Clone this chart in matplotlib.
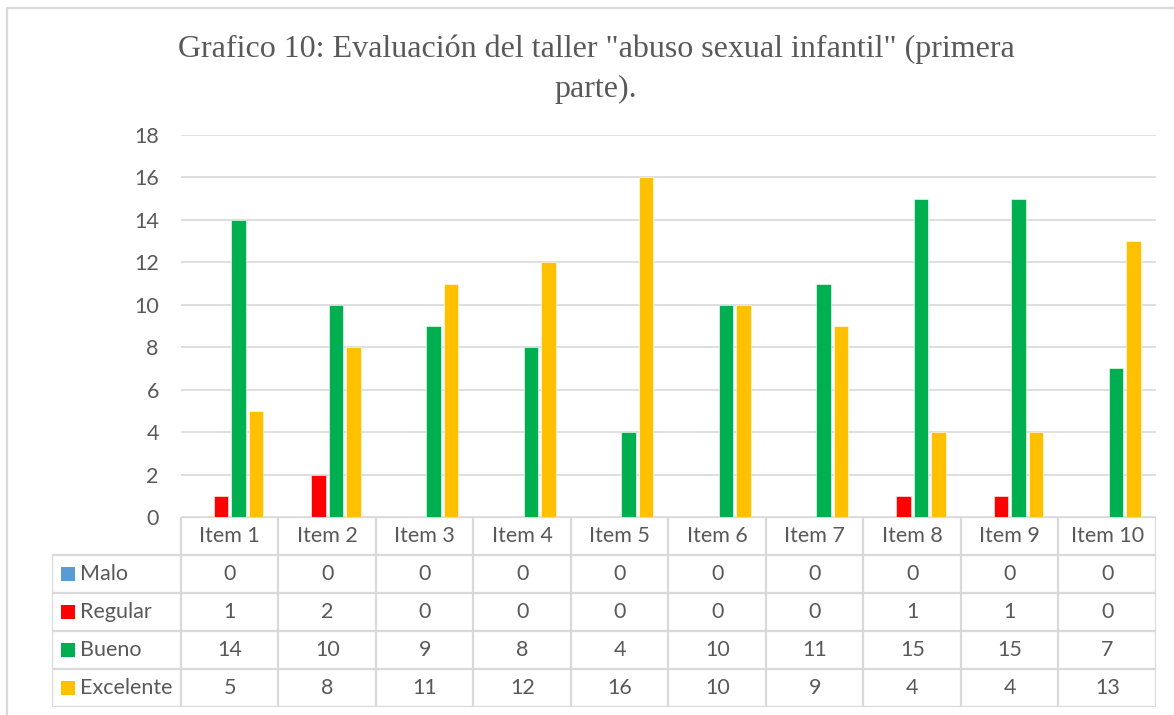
import matplotlib
matplotlib.use("Agg")
import matplotlib.pyplot as plt
import numpy as np

categories = ["Item 1", "Item 2", "Item 3", "Item 4", "Item 5",
              "Item 6", "Item 7", "Item 8", "Item 9", "Item 10"]
series_names = ["Malo", "Regular", "Bueno", "Excelente"]
malo = [0, 0, 0, 0, 0, 0, 0, 0, 0, 0]
regular = [1, 2, 0, 0, 0, 0, 0, 1, 1, 0]
bueno = [14, 10, 9, 8, 4, 10, 11, 15, 15, 7]
excelente = [5, 8, 11, 12, 16, 10, 9, 4, 4, 13]
colors = ["#5B9BD5", "#FF0000", "#00B050", "#FFC000"]
yticks = [0, 2, 4, 6, 8, 10, 12, 14, 16, 18]
title = 'Grafico 10: Evaluación del taller "abuso sexual infantil" (primera\nparte).'

W, H = 1174, 715
TXT = "#595959"
GRID = "#D9D9D9"
SANS = ["Lato", "DejaVu Sans"]
FS = 15.5

fig = plt.figure(figsize=(W / 100, H / 100), dpi=100)

def fx(px):
    return px / W

def fy(py):
    return 1 - py / H

# outer frame
frame = fig.add_axes([0, 0, 1, 1], facecolor="none")
frame.set_xlim(0, W)
frame.set_ylim(H, 0)
frame.axis("off")
frame.plot([7, 7, W + 5], [H + 5, 8, 8], color=GRID, lw=1.6, solid_capstyle="butt")

# plot area
x0, x1 = 181, 1156
ytop, ybot = 135, 517
ax = fig.add_axes([fx(x0), fy(ybot), fx(x1) - fx(x0), (ybot - ytop) / H])
ax.set_xlim(-0.5, len(categories) - 0.5)
ax.set_ylim(0, 18)
ax.set_yticks(yticks)
ax.set_xticks([])
for s in ax.spines.values():
    s.set_visible(False)
ax.tick_params(axis="y", length=0, pad=16, labelsize=FS, labelcolor=TXT)
for lab in ax.get_yticklabels():
    lab.set_fontfamily(SANS)
ax.grid(axis="y", color=GRID, lw=1.2)
ax.set_axisbelow(True)

data = [malo, regular, bueno, excelente]
x = np.arange(len(categories))
step = 0.1795
width = 0.145
for i, (vals, c) in enumerate(zip(data, colors)):
    ax.bar(x + (i - 1.5) * step, vals, width=width, color=c,
           edgecolor="white", linewidth=0.4, zorder=3)

fig.text(fx(596), fy(69), title, ha="center", va="center",
         fontsize=23, color=TXT, family="Liberation Serif", linespacing=1.5)

# data table
tl = 52
tbot = 707
ncat = len(categories)
catw = (x1 - x0) / ncat
left_units = (x0 - tl) / catw
nrows = len(series_names) + 1
tab = fig.add_axes([fx(tl), fy(tbot), fx(x1) - fx(tl), (tbot - ybot) / H],
                   facecolor="none")
tab.set_xlim(-0.5 - left_units, ncat - 0.5)
tab.set_ylim(nrows, 0)
tab.axis("off")
lc = "#D9D9D9"
lw = 1.6
# horizontal lines
tab.plot([-0.5, ncat - 0.5], [0, 0], color=lc, lw=lw)
for r in range(1, nrows + 1):
    tab.plot([-0.5 - left_units, ncat - 0.5], [r, r], color=lc, lw=lw)
# vertical lines
tab.plot([-0.5 - left_units] * 2, [1, nrows], color=lc, lw=lw)
for k in range(ncat + 1):
    tab.plot([k - 0.5] * 2, [0, nrows], color=lc, lw=lw)
# headers
for k, cat in enumerate(categories):
    tab.text(k, 0.5, cat, ha="center", va="center", fontsize=FS,
             color=TXT, family=SANS)
# rows
sq = 14 / catw
for r, (name, vals, c) in enumerate(zip(series_names, data, colors), start=1):
    xs = -0.5 - left_units + 9 / catw
    tab.add_patch(plt.Rectangle((xs, r + 0.5 - 0.19), sq, 0.38,
                                color=c, lw=0))
    tab.text(xs + sq + 5 / catw, r + 0.5, name, ha="left", va="center",
             fontsize=FS, color=TXT, family=SANS)
    for k, v in enumerate(vals):
        tab.text(k, r + 0.5, str(v), ha="center", va="center", fontsize=FS,
                 color=TXT, family=SANS)

fig.savefig("out.png", dpi=100)
